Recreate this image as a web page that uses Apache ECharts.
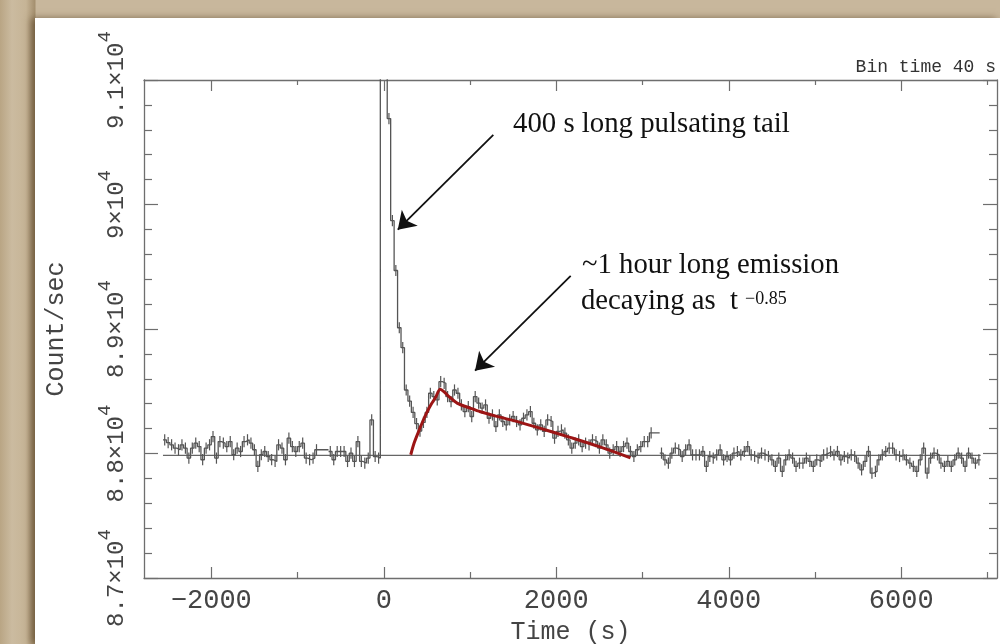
<!DOCTYPE html>
<html><head><meta charset="utf-8">
<script src="https://cdn.jsdelivr.net/npm/echarts@6/dist/echarts.min.js"></script>
<style>
html,body{margin:0;padding:0;width:1000px;height:644px;overflow:hidden;}
body{background:#c8b79c;background-image:linear-gradient(90deg,#b9a584 0px,#cbbba0 12px,#c6b496 26px,#a48f6e 35px,#c8b79c 36px);}
#panel{position:absolute;left:35px;top:18px;width:965px;height:626px;background:#fff;box-shadow:-4px 0 7px rgba(80,58,30,.6);}
#chart{position:absolute;left:0;top:0;width:1000px;height:644px;}
</style></head><body><div id="panel"></div><div id="chart"></div>
<script>
// ---------------- data (counts/s, 40 s bins; each value is a bin level) ----------------
const BIN = 40;
const preBurstAStart = -2560;
const preBurstA = [88110, 88088, 88070, 88043, 88030, 88070, 88043, 87963, 88043, 88083,
  88056, 87950, 88043, 88070, 88136, 87963, 88096, 88083, 88056, 88096,
  87990, 88043, 88016, 88096, 88110, 88083, 88030, 87896, 87990, 88016,
  87976, 87950, 87936, 88070, 88043, 87950, 88123, 88056, 88016, 88056,
  88083, 87963, 87950, 87963, 88030];
const preBurstBStart = -640;
const preBurstB = [88016, 87950, 88016, 88016, 88016, 87936, 88003, 87936, 88096, 87936,
  87923, 87963, 88270, 87976, 87963];
// bins from -40 s: burst (off scale) and 400 s pulsating tail
const spikeCounts = [95000, 95000, 90690, 89870, 89470, 89010, 88850, 88510, 88420, 88330, 88240, 88180];
// bins from 440 s: ~1 hour long emission
const afterglowCounts = [88250, 88330, 88484, 88457, 88430, 88577, 88564, 88457, 88417, 88510,
  88484, 88390, 88337, 88377, 88297, 88457, 88404, 88364, 88390, 88283,
  88310, 88217, 88310, 88257, 88230, 88270, 88297, 88257, 88230, 88283,
  88310, 88337, 88243, 88190, 88230, 88177, 88270, 88257, 88123, 88177,
  88190, 88163, 88110, 88043, 88083, 88110, 88056, 88083, 88070, 88110,
  88096, 88043, 88110, 88070, 88003, 88030, 88056, 88016, 88056, 88083,
  88016, 87976, 88030, 88056, 88096, 88096, 88166];
const lateStart = 3200;
const lateCounts = [88003, 87949, 87922, 88003, 88043, 88029, 87976, 88029, 88069, 87989,
  87989, 87989, 88016, 87896, 87976, 87963, 87989, 88029, 87949, 87976,
  87949, 88003, 88016, 87989, 88016, 88056, 87989, 87976, 87963, 88003,
  87989, 87976, 87949, 87896, 87963, 87856, 87949, 87989, 87963, 87896,
  87922, 87922, 87963, 87936, 87896, 87949, 87936, 87989, 88003, 88016,
  87989, 88016, 87949, 87976, 87963, 87989, 87976, 87922, 87869, 87936,
  88016, 87842, 87856, 87949, 87989, 88016, 88043, 88043, 87989, 87976,
  87989, 87949, 87922, 87896, 87856, 87949, 88043, 87842, 87963, 88003,
  87989, 87922, 87896, 87936, 87896, 87949, 88003, 87963, 87896, 88003,
  87963, 87922, 87949];
const errorHalf = 45;
const baselineLevel = 87985;
// power-law decay fit (red)
const fitTimes  = [313, 350, 400, 450, 500, 550, 600, 655, 700, 760, 850, 1000, 1120, 1300, 1580, 1850, 2160, 2500, 2860];
const fitCounts = [87990, 88080, 88170, 88255, 88330, 88395, 88450, 88516, 88495, 88455, 88405, 88365, 88335, 88300, 88250, 88195, 88130, 88055, 87965];
// annotation arrows [fromT, fromCount, toT, toCount]
const arrowPulsating = [1270, 90559, 162, 89798];
const arrowEmission  = [2167, 89426, 1058, 88665];
// axes
const X_MIN = -2780, X_MAX = 7110, Y_MIN = 87000, Y_MAX = 91000;
const xTickValues = [-2000, 0, 2000, 4000, 6000];
const xTickLabels = ['\u22122000', '0', '2000', '4000', '6000'];
const xMinorTicks = [-1000, 1000, 3000, 5000, 7000];
const yTickValues = [87000, 88000, 89000, 90000, 91000];
const yTickMantissa = ['8.7\u00d710', '8.8\u00d710', '8.9\u00d710', '9\u00d710', '9.1\u00d710'];

// ---------------- build ----------------
const segments = [
  {start: preBurstAStart, vals: preBurstA},
  {start: preBurstBStart, vals: preBurstB.concat(spikeCounts, afterglowCounts)},
  {start: lateStart, vals: lateCounts}
];
const stepData = [], errData = [];
segments.forEach((s, si) => {
  if (si > 0) stepData.push([s.start - 1, '-']);
  s.vals.forEach((v, i) => {
    const t = s.start + i * BIN;
    stepData.push([t, v]);
    if (v <= Y_MAX) errData.push([t + BIN / 2, v]);
  });
  const last = s.vals[s.vals.length - 1];
  stepData.push([s.start + s.vals.length * BIN, last]);
});
const firstT = segments[0].start;
const lastSeg = segments[segments.length - 1];
const lastT = lastSeg.start + lastSeg.vals.length * BIN;

const AX = '#6e6e6e';
const FONT = 'Liberation Mono';
const axLine = {show: true, onZero: false, lineStyle: {color: AX, width: 1.3}};
function xAx(pos, ticks, len, main) {
  return {
    type: 'value', position: pos, min: X_MIN, max: X_MAX,
    axisLine: main ? axLine : {show: false},
    axisTick: {show: true, inside: true, length: len, customValues: ticks, lineStyle: {color: AX, width: 1.2}},
    axisLabel: main && pos === 'bottom' ? {
      show: true, customValues: xTickValues, margin: 9,
      formatter: v => xTickLabels[xTickValues.indexOf(v)],
      fontFamily: FONT, fontSize: 27, color: '#444'
    } : {show: false, customValues: ticks},
    splitLine: {show: false}
  };
}
const xAxes = [xAx('bottom', xTickValues, 11, true), xAx('bottom', xMinorTicks, 6, false),
               xAx('top', xTickValues, 11, true), xAx('top', xMinorTicks, 5, false)];
xAxes[0].name = 'Time (s)';
xAxes[0].nameLocation = 'middle';
xAxes[0].nameGap = 42;
xAxes[0].nameTextStyle = {fontFamily: FONT, fontSize: 25, color: '#444'};

function yAx(pos, main) {
  return {
    type: 'value', position: pos, min: Y_MIN, max: Y_MAX, interval: 1000,
    axisLine: axLine,
    axisTick: {show: true, inside: true, length: 14, lineStyle: {color: AX, width: 1.2}},
    minorTick: {show: true, splitNumber: 5, length: 8, lineStyle: {color: AX, width: 1.2}},
    splitLine: {show: false}, minorSplitLine: {show: false},
    axisLabel: main ? {
      show: true, rotate: 90, margin: 15,
      formatter: v => '{m|' + yTickMantissa[yTickValues.indexOf(v)] + '}{s|4}',
      rich: {
        m: {fontFamily: FONT, fontSize: 24, lineHeight: 24, color: '#444', verticalAlign: 'bottom'},
        s: {fontFamily: FONT, fontSize: 19, lineHeight: 34, color: '#444', verticalAlign: 'top'}
      }
    } : {show: false},
    name: main ? 'Count/sec' : '',
    nameLocation: 'middle', nameRotate: 90, nameGap: 75,
    nameTextStyle: {fontFamily: FONT, fontSize: 25, color: '#444'}
  };
}

const SERIF = 'Liberation Serif';
const chart = echarts.init(document.getElementById('chart'), null, {renderer: 'canvas'});
chart.setOption({
  animation: false,
  backgroundColor: 'transparent',
  grid: {left: 144, right: 3, top: 80, bottom: 66, containLabel: false, outerBoundsMode: 'none'},
  xAxis: xAxes,
  yAxis: [yAx('left', true), yAx('right', false)],
  series: [
    {
      name: 'baseline', type: 'line', silent: true, showSymbol: false,
      data: [[firstT, baselineLevel], [lastT, baselineLevel]],
      lineStyle: {color: '#666', width: 1.3}, z: 1,
      markLine: {
        silent: true, symbol: ['none', 'arrow'], symbolSize: 17,
        label: {show: false},
        lineStyle: {color: '#111', width: 1.8, type: 'solid'},
        data: [
          [{coord: [arrowPulsating[0], arrowPulsating[1]]}, {coord: [arrowPulsating[2], arrowPulsating[3]]}],
          [{coord: [arrowEmission[0], arrowEmission[1]]}, {coord: [arrowEmission[2], arrowEmission[3]]}]
        ]
      }
    },
    {
      name: 'rate', type: 'line', step: 'end', showSymbol: false, connectNulls: false,
      data: stepData, lineStyle: {color: '#555', width: 1.3}, z: 2
    },
    {
      name: 'errors', type: 'custom', data: errData, z: 2,
      encode: {x: 0, y: 1},
      renderItem: function (params, api) {
        const t = api.value(0), v = api.value(1);
        const a = api.coord([t, v - errorHalf]), b = api.coord([t, v + errorHalf]);
        return {type: 'line', shape: {x1: a[0], y1: a[1], x2: b[0], y2: b[1]},
                style: {stroke: '#555', lineWidth: 1.2}};
      }
    },
    {
      name: 'fit', type: 'line', smooth: 0.3, showSymbol: false,
      data: fitTimes.map((t, i) => [t, fitCounts[i]]),
      lineStyle: {color: '#9c1515', width: 3}, z: 3
    }
  ],
  graphic: [
    {type: 'text', x: 996, y: 67, style: {text: 'Bin time 40 s', fontFamily: FONT, fontSize: 18, fill: '#333', align: 'right', verticalAlign: 'middle'}},
    {type: 'text', x: 513, y: 124, style: {text: '400 s long pulsating tail', fontFamily: SERIF, fontSize: 28.8, fill: '#111', align: 'left', verticalAlign: 'middle'}},
    {type: 'text', x: 582, y: 265, style: {text: '~1 hour long emission', fontFamily: SERIF, fontSize: 28.7, fill: '#111', align: 'left', verticalAlign: 'middle'}},
    {type: 'text', x: 581, y: 301, style: {text: 'decaying as  t', fontFamily: SERIF, fontSize: 28.7, fill: '#111', align: 'left', verticalAlign: 'middle'}},
    {type: 'text', x: 745, y: 299, style: {text: '\u22120.85', fontFamily: SERIF, fontSize: 18, fill: '#111', align: 'left', verticalAlign: 'middle'}}
  ]
});
</script></body></html>
